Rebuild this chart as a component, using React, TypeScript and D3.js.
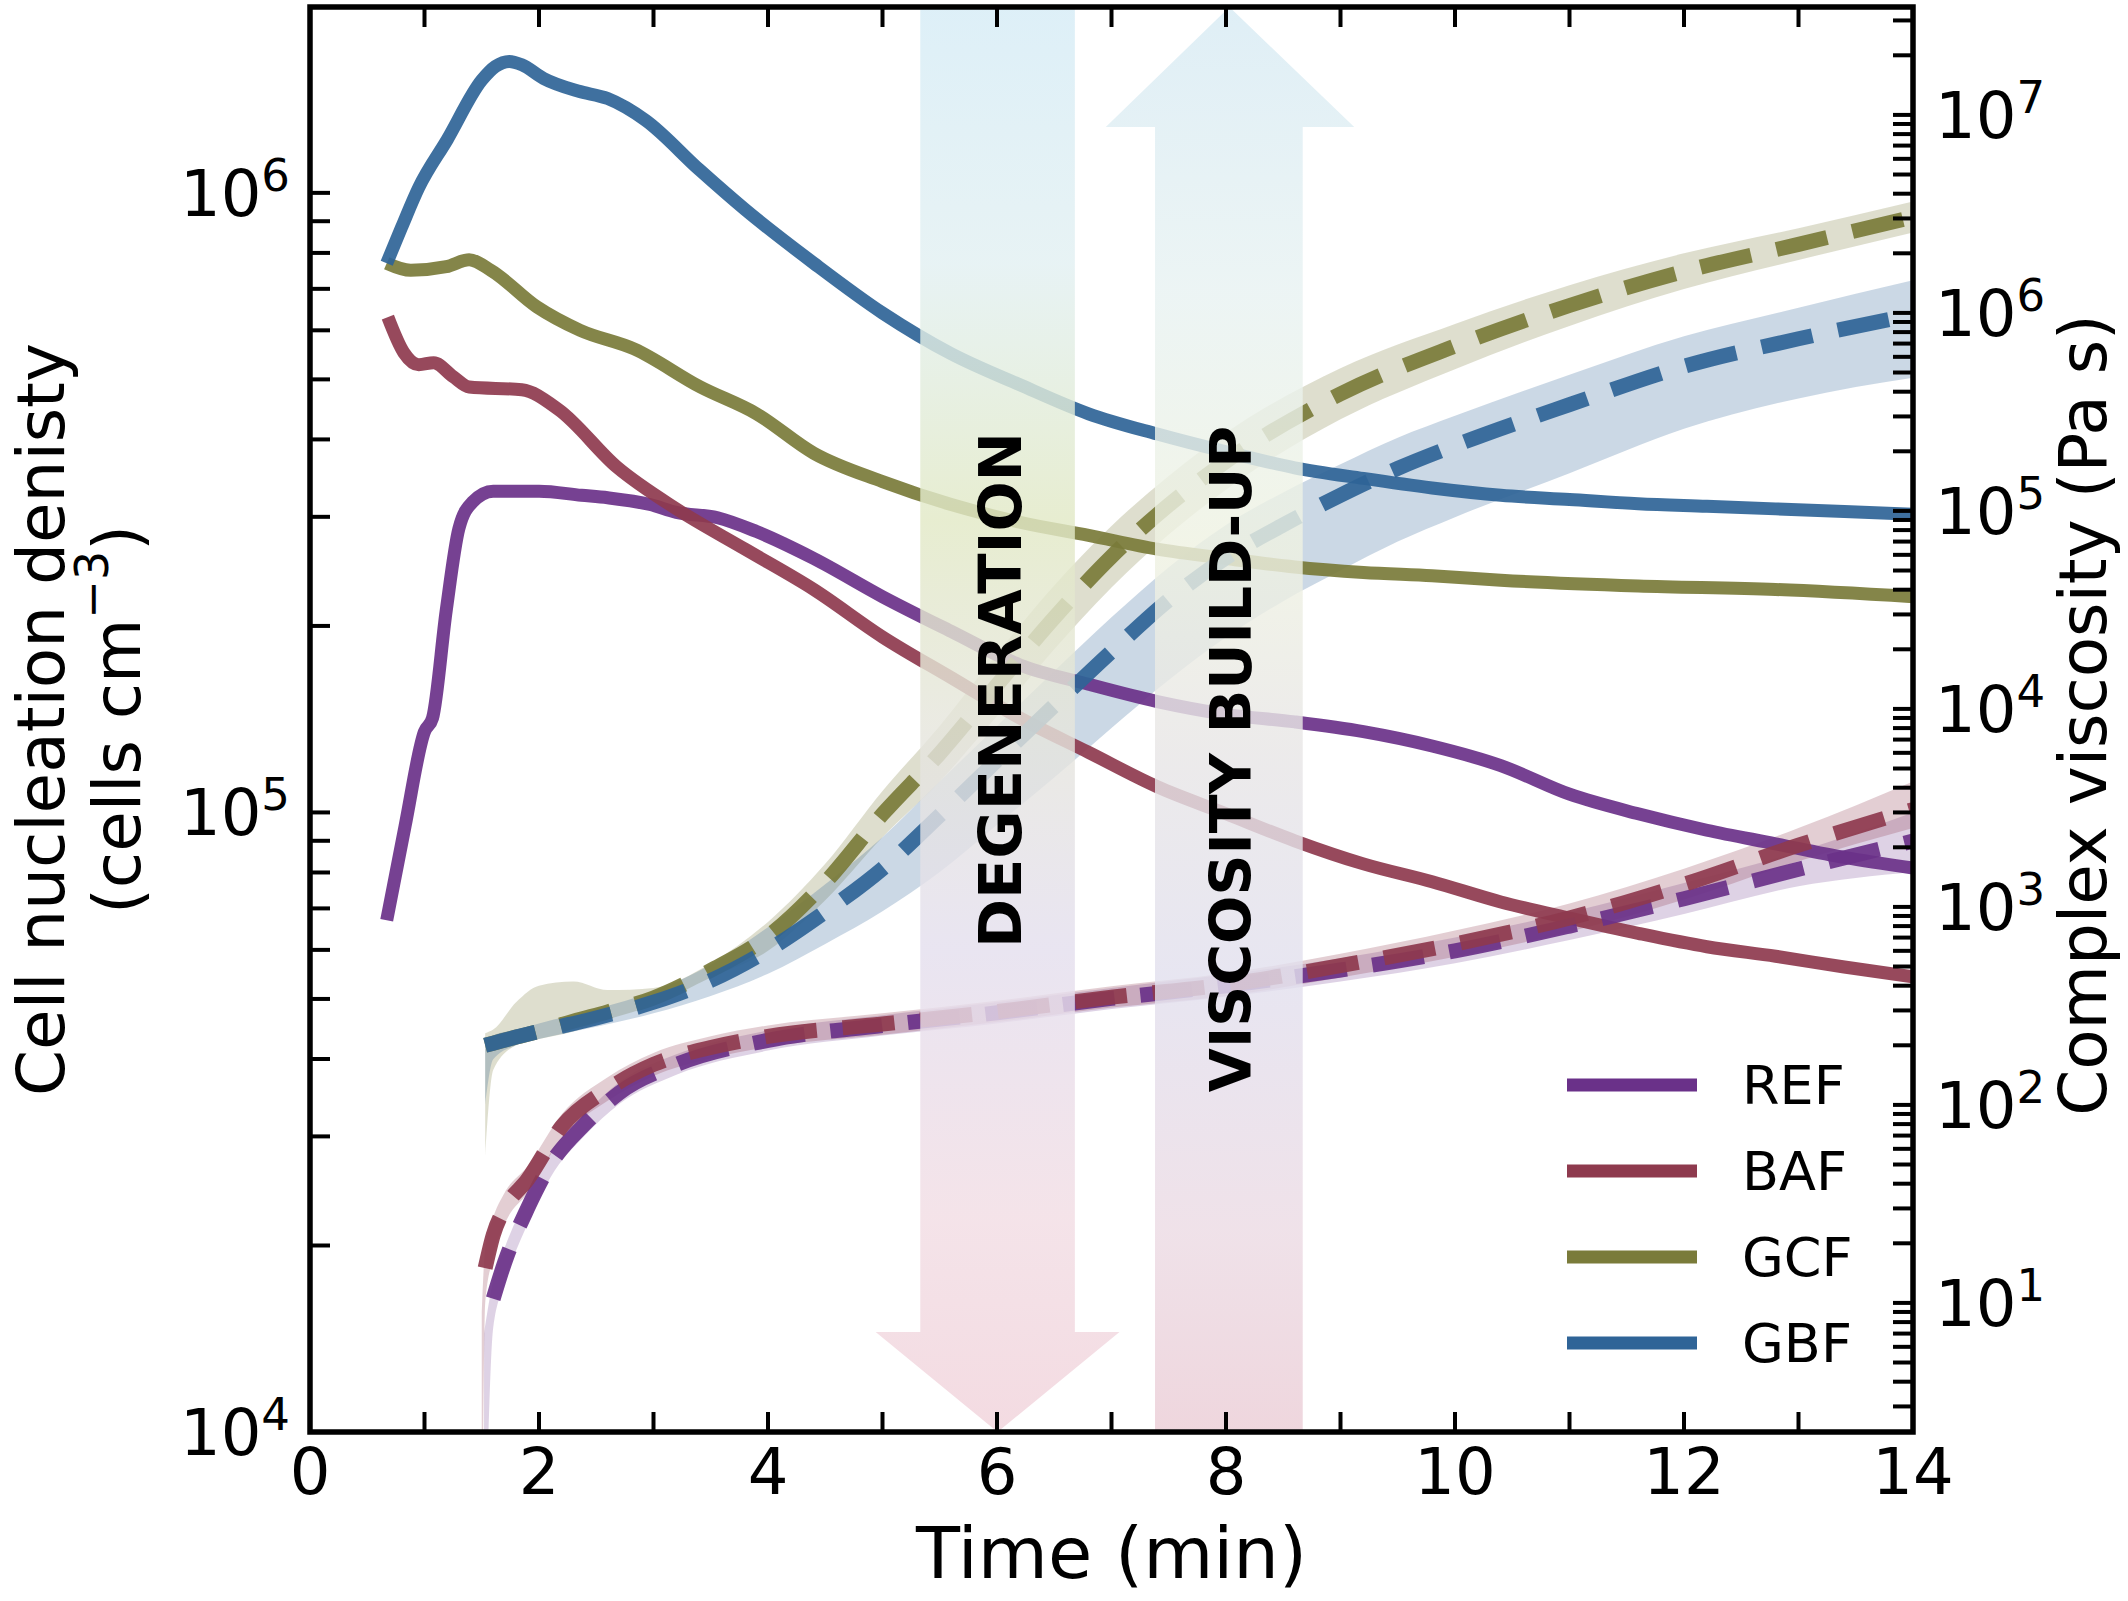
import React, { useEffect } from 'react';
import * as d3 from 'd3';

const W = 2128;
const H = 1601;
const PL = 310, PR = 1913, PT = 7, PB = 1432;
const FONT = '"DejaVu Sans", sans-serif';

// ---------- Cell nucleation density (left axis) ----------
const REF_NUC_X = [0.67, 0.83, 1.0, 1.07, 1.19, 1.3, 1.42, 1.6, 1.8, 2.0, 2.37, 2.6, 2.97, 3.2, 3.56, 3.9, 4.4, 5.0, 5.6, 6.2, 6.8, 7.4, 8.0, 8.6, 9.2, 9.8, 10.4, 11.0, 11.6, 12.2, 12.8, 13.4, 14.0];
const REF_NUC_Y = [6.7e4, 9.5e4, 1.35e5, 1.42e5, 2.12e5, 2.87e5, 3.17e5, 3.3e5, 3.3e5, 3.3e5, 3.25e5, 3.22e5, 3.14e5, 3.05e5, 2.99e5, 2.84e5, 2.57e5, 2.23e5, 1.96e5, 1.73e5, 1.61e5, 1.51e5, 1.44e5, 1.4e5, 1.35e5, 1.28e5, 1.19e5, 1.07e5, 9.95e4, 9.36e4, 8.9e4, 8.46e4, 8.13e4];

const BAF_NUC_X = [0.68, 0.82, 0.95, 1.08, 1.25, 1.39, 1.85, 2.17, 2.68, 3.2, 3.8, 4.4, 5.0, 5.6, 6.2, 6.8, 7.4, 8.0, 8.6, 9.2, 9.8, 10.4, 11.0, 11.6, 12.2, 12.8, 13.4, 14.0];
const BAF_NUC_Y = [6.3e5, 5.52e5, 5.28e5, 5.32e5, 5.05e5, 4.86e5, 4.81e5, 4.47e5, 3.61e5, 3.09e5, 2.66e5, 2.29e5, 1.92e5, 1.65e5, 1.42e5, 1.25e5, 1.1e5, 9.95e4, 9.0e4, 8.26e4, 7.73e4, 7.17e4, 6.75e4, 6.38e4, 6.07e4, 5.86e4, 5.63e4, 5.43e4];

const GCF_NUC_X = [0.67, 0.88, 1.19, 1.39, 1.58, 1.98, 2.36, 2.83, 3.41, 3.9, 4.4, 5.0, 5.6, 6.2, 6.8, 7.4, 8.0, 8.6, 9.2, 9.8, 10.4, 11.6, 12.8, 14.0];
const GCF_NUC_Y = [7.7e5, 7.5e5, 7.6e5, 7.8e5, 7.5e5, 6.55e5, 6.0e5, 5.6e5, 4.86e5, 4.4e5, 3.8e5, 3.42e5, 3.14e5, 2.94e5, 2.8e5, 2.66e5, 2.57e5, 2.49e5, 2.44e5, 2.41e5, 2.37e5, 2.32e5, 2.29e5, 2.23e5];

const GBF_NUC_X = [0.67, 0.8, 0.95, 1.2, 1.5, 1.62, 1.74, 1.85, 2.04, 2.34, 2.6, 2.93, 3.4, 3.8, 4.4, 5.0, 5.6, 6.2, 6.8, 7.4, 8.0, 8.6, 9.2, 9.8, 10.4, 11.0, 11.6, 12.2, 12.8, 13.4, 14.0];
const GBF_NUC_Y = [7.7e5, 8.8e5, 1.02e6, 1.22e6, 1.52e6, 1.6e6, 1.63e6, 1.61e6, 1.53e6, 1.46e6, 1.42e6, 1.31e6, 1.09e6, 9.4e5, 7.7e5, 6.4e5, 5.5e5, 4.9e5, 4.4e5, 4.08e5, 3.82e5, 3.6e5, 3.46e5, 3.34e5, 3.25e5, 3.2e5, 3.15e5, 3.12e5, 3.09e5, 3.06e5, 3.03e5];

// ---------- Complex viscosity (right axis): mean, lower, upper ----------
const REF_VIS_X = [1.52, 1.6, 1.7, 1.9, 2.1, 2.4, 2.7, 3.2, 4.0, 5.0, 6.0, 7.0, 8.0, 9.0, 10.0, 11.0, 12.0, 13.0, 14.0];
const REF_VIS_M = [null, 10.5, 16, 30, 50, 80, 115, 160, 212, 252, 292, 345, 400, 480, 600, 800, 1100, 1550, 2150];
const REF_VIS_LO = [0.3, 7.5, 12.5, 25, 43, 70, 101, 142, 188, 224, 258, 305, 352, 420, 520, 680, 920, 1270, 1500];
const REF_VIS_HI = [7, 13, 19, 35, 57, 90, 130, 180, 238, 284, 330, 390, 455, 550, 700, 940, 1320, 1900, 3000];

const BAF_VIS_X = [1.5, 1.53, 1.6, 1.7, 1.9, 2.2, 2.6, 3.0, 3.5, 4.0, 5.0, 6.0, 7.0, 8.0, 9.0, 10.0, 11.0, 12.0, 13.0, 14.0];
const BAF_VIS_M = [null, 15, 22, 30, 42, 78, 120, 160, 195, 222, 256, 296, 350, 405, 505, 650, 880, 1300, 2050, 3100];
const BAF_VIS_LO = [0.3, 10, 17, 25, 36, 68, 105, 140, 172, 196, 226, 262, 310, 355, 440, 560, 750, 1090, 1700, 2500];
const BAF_VIS_HI = [9, 19, 27, 36, 49, 90, 138, 183, 222, 252, 290, 336, 397, 462, 580, 760, 1040, 1560, 2500, 4300];

const GCF_VIS_X = [1.53, 1.6, 1.8, 2.0, 2.3, 2.6, 3.0, 3.5, 4.0, 4.5, 5.0, 5.5, 6.0, 6.5, 7.0, 7.5, 8.0, 9.0, 10.0, 11.0, 12.0, 13.0, 14.0];
const GCF_VIS_M = [200, 205, 220, 235, 265, 295, 347, 478, 710, 1330, 2940, 5960, 13200, 28900, 58800, 107000, 178000, 390000, 680000, 1090000, 1620000, 2220000, 3050000];
const GCF_VIS_LO = [55, 150, 200, 215, 235, 270, 320, 440, 600, 1080, 2250, 4300, 9200, 20000, 41000, 76000, 128000, 290000, 520000, 860000, 1320000, 1850000, 2550000];
const GCF_VIS_HI = [230, 240, 330, 400, 420, 380, 390, 520, 840, 1650, 3850, 8200, 19000, 42000, 84000, 150000, 248000, 525000, 880000, 1380000, 2000000, 2680000, 3650000];

const GBF_VIS_X = [1.53, 1.6, 1.8, 2.0, 2.5, 3.0, 3.5, 4.0, 4.5, 5.0, 5.5, 6.0, 6.5, 7.0, 7.5, 8.0, 8.5, 9.0, 9.5, 10.0, 11.0, 12.0, 13.0, 14.0];
const GBF_VIS_M = [200, 205, 220, 235, 275, 330, 425, 605, 944, 1560, 2900, 5500, 10400, 19500, 35500, 58000, 85000, 120000, 164000, 214000, 344000, 537000, 740000, 980000];
const GBF_VIS_LO = [100, 170, 200, 215, 248, 290, 355, 460, 650, 950, 1500, 2600, 4500, 8000, 14000, 23000, 35000, 50000, 70000, 93000, 155000, 260000, 370000, 470000];
const GBF_VIS_HI = [215, 225, 240, 258, 305, 375, 510, 790, 1300, 2250, 4300, 8200, 15500, 29000, 52000, 85000, 124000, 172000, 234000, 302000, 487000, 762000, 1062000, 1460000];

const SERIES = ['REF', 'BAF', 'GCF', 'GBF'];
const COLORS = ['#6a3189', '#8e3a4e', '#7a7b3a', '#2f6497'];

const X_TICKS = [0, 2, 4, 6, 8, 10, 12, 14];
const LEFT_MAJOR = [4, 5, 6];
const RIGHT_MAJOR = [1, 2, 3, 4, 5, 6, 7];

export default function App() {
  useEffect(() => {
    document.body.style.margin = '0';
  }, []);

  const x = d3.scaleLinear().domain([0, 14]).range([PL, PR]);
  const yL = d3.scaleLog().domain([1e4, Math.pow(10, 6.3)]).range([PB, PT]);
  const yR = d3.scaleLog().domain([Math.pow(10, 0.348), Math.pow(10, 7.545)]).range([PB, PT]);

  const nucX = [REF_NUC_X, BAF_NUC_X, GCF_NUC_X, GBF_NUC_X];
  const nucY = [REF_NUC_Y, BAF_NUC_Y, GCF_NUC_Y, GBF_NUC_Y];
  const visX = [REF_VIS_X, BAF_VIS_X, GCF_VIS_X, GBF_VIS_X];
  const visM = [REF_VIS_M, BAF_VIS_M, GCF_VIS_M, GBF_VIS_M];
  const visLo = [REF_VIS_LO, BAF_VIS_LO, GCF_VIS_LO, GBF_VIS_LO];
  const visHi = [REF_VIS_HI, BAF_VIS_HI, GCF_VIS_HI, GBF_VIS_HI];

  const nucLine = d3
    .line<[number, number]>()
    .x((d) => x(d[0]))
    .y((d) => yL(d[1]))
    .curve(d3.curveMonotoneX);
  const visLine = d3
    .line<[number, number | null]>()
    .defined((d) => d[1] != null)
    .x((d) => x(d[0]))
    .y((d) => yR(d[1] as number))
    .curve(d3.curveMonotoneX);
  const visArea = d3
    .area<[number, number, number]>()
    .x((d) => x(d[0]))
    .y0((d) => yR(d[1]))
    .y1((d) => yR(d[2]))
    .curve(d3.curveMonotoneX);

  const bandOpacity = [0.22, 0.25, 0.25, 0.25];

  const xMinor = d3.range(0, 15, 1);
  const leftTicks: number[] = [];
  for (let e = 4; e <= 6; e++) for (let k = 1; k <= 9; k++) {
    const v = k * Math.pow(10, e);
    if (v >= 1e4 && v <= Math.pow(10, 6.3)) leftTicks.push(v);
  }
  const rightTicks: number[] = [];
  for (let e = 0; e <= 7; e++) for (let k = 1; k <= 9; k++) {
    const v = k * Math.pow(10, e);
    if (v >= Math.pow(10, 0.348) && v <= Math.pow(10, 7.545)) rightTicks.push(v);
  }
  const TL = 20;

  const dShaftL = x(5.33), dShaftR = x(6.68), dHeadL = x(4.94), dHeadR = x(7.07), dTip = x(6.005);
  const dBase = PB - 100;
  const degenPath = `M${dShaftL},${PT} H${dShaftR} V${dBase} H${dHeadR} L${dTip},${PB} L${dHeadL},${dBase} H${dShaftL} Z`;
  const vShaftL = x(7.38), vShaftR = x(8.67), vHeadL = x(6.95), vHeadR = x(9.12), vTip = x(8.03);
  const vBase = PT + 120;
  const viscPath = `M${vShaftL},${PB} V${vBase} H${vHeadL} L${vTip},${PT} L${vHeadR},${vBase} H${vShaftR} V${PB} Z`;

  const legendY = [1085, 1171, 1257, 1343];

  return (
    <svg width={W} height={H} viewBox={`0 0 ${W} ${H}`} style={{ display: 'block', background: '#fff' }} fontFamily={FONT}>
      <defs>
        <clipPath id="plotClip">
          <rect x={PL} y={PT} width={PR - PL} height={PB - PT} />
        </clipPath>
        <linearGradient id="gradDegen" gradientUnits="userSpaceOnUse" x1="0" y1={PT} x2="0" y2={PB}>
          <stop offset="0" stopColor="#d6ecf6" />
          <stop offset="0.18" stopColor="#e2f0f2" />
          <stop offset="0.36" stopColor="#e2e9c6" />
          <stop offset="0.5" stopColor="#e6e6dc" />
          <stop offset="0.66" stopColor="#e4dfee" />
          <stop offset="0.85" stopColor="#f2dde4" />
          <stop offset="1" stopColor="#f1d3db" />
        </linearGradient>
        <linearGradient id="gradVisc" gradientUnits="userSpaceOnUse" x1="0" y1={PT} x2="0" y2={PB}>
          <stop offset="0" stopColor="#d8ebf4" />
          <stop offset="0.2" stopColor="#e8f2f2" />
          <stop offset="0.38" stopColor="#eff2e2" />
          <stop offset="0.52" stopColor="#e8e6e6" />
          <stop offset="0.68" stopColor="#e2e0ee" />
          <stop offset="0.86" stopColor="#ecdbe4" />
          <stop offset="1" stopColor="#ebcdd6" />
        </linearGradient>
      </defs>

      <g clipPath="url(#plotClip)">
        {SERIES.map((s, i) => {
          const pts: [number, number, number][] = visX[i].map((xv, j) => [xv, visLo[i][j], visHi[i][j]]);
          return <path key={`band-${s}`} d={visArea(pts) || ''} fill={COLORS[i]} fillOpacity={bandOpacity[i]} stroke="none" />;
        })}
        {SERIES.map((s, i) => {
          const pts: [number, number][] = nucX[i].map((xv, j) => [xv, nucY[i][j]]);
          return (
            <path key={`nuc-${s}`} d={nucLine(pts) || ''} fill="none" stroke={COLORS[i]} strokeWidth={13} strokeOpacity={0.92} strokeLinejoin="round" />
          );
        })}
        {SERIES.map((s, i) => {
          const pts: [number, number | null][] = visX[i].map((xv, j) => [xv, visM[i][j]]);
          return (
            <path key={`vis-${s}`} d={visLine(pts) || ''} fill="none" stroke={COLORS[i]} strokeWidth={15} strokeOpacity={0.92} strokeDasharray="52 26" />
          );
        })}
        <path d={degenPath} fill="url(#gradDegen)" fillOpacity={0.82} />
        <path d={viscPath} fill="url(#gradVisc)" fillOpacity={0.82} />
      </g>

      <text transform={`translate(${x(6.03)},${690}) rotate(-90)`} textAnchor="middle" dominantBaseline="central" fontWeight="bold" fontSize={59} fill="#000">
        DEGENERATION
      </text>
      <text transform={`translate(${x(8.04)},${759}) rotate(-90)`} textAnchor="middle" dominantBaseline="central" fontWeight="bold" fontSize={57} fill="#000">
        VISCOSITY BUILD-UP
      </text>

      <g stroke="#000" strokeWidth={4}>
        {xMinor.map((t) => (
          <g key={`xt-${t}`}>
            <line x1={x(t)} x2={x(t)} y1={PB} y2={PB - TL} />
            <line x1={x(t)} x2={x(t)} y1={PT} y2={PT + TL} />
          </g>
        ))}
        {leftTicks.map((v, i) => (
          <line key={`lt-${i}`} x1={PL} x2={PL + TL} y1={yL(v)} y2={yL(v)} />
        ))}
        {rightTicks.map((v, i) => (
          <line key={`rt-${i}`} x1={PR} x2={PR - TL} y1={yR(v)} y2={yR(v)} />
        ))}
      </g>

      <rect x={PL} y={PT} width={PR - PL} height={PB - PT} fill="none" stroke="#000" strokeWidth={5.5} />

      {X_TICKS.map((t) => (
        <text key={`xl-${t}`} x={x(t)} y={1472} textAnchor="middle" dominantBaseline="central" fontSize={64} fill="#000">
          {t}
        </text>
      ))}
      {LEFT_MAJOR.map((e) => (
        <text key={`ll-${e}`} x={290} y={yL(Math.pow(10, e)) + 23} textAnchor="end" fontSize={64} fill="#000">
          10<tspan fontSize={45} dy={-25}>{e}</tspan>
        </text>
      ))}
      {RIGHT_MAJOR.map((e) => (
        <text key={`rl-${e}`} x={1935} y={yR(Math.pow(10, e)) + 23} textAnchor="start" fontSize={64} fill="#000">
          10<tspan fontSize={45} dy={-25}>{e}</tspan>
        </text>
      ))}

      <text x={(PL + PR) / 2} y={1553} textAnchor="middle" dominantBaseline="central" fontSize={72} fill="#000">
        Time (min)
      </text>
      <text transform={`translate(41,${(PT + PB) / 2}) rotate(-90)`} textAnchor="middle" dominantBaseline="central" fontSize={66} fill="#000">
        Cell nucleation denisty
      </text>
      <text transform={`translate(117,${(PT + PB) / 2}) rotate(-90)`} textAnchor="middle" dominantBaseline="central" fontSize={66} fill="#000">
        (cells cm<tspan fontSize={46} dy={-25}>−3</tspan><tspan dy={25}>)</tspan>
      </text>
      <text transform={`translate(2083,${715}) rotate(-90)`} textAnchor="middle" dominantBaseline="central" fontSize={66} fill="#000">
        Complex viscosity (Pa s)
      </text>

      {SERIES.map((s, i) => (
        <g key={`lg-${s}`}>
          <line x1={1567} x2={1697} y1={legendY[i]} y2={legendY[i]} stroke={COLORS[i]} strokeWidth={13} />
          <text x={1742} y={legendY[i]} dominantBaseline="central" fontSize={54} fill="#000">
            {s}
          </text>
        </g>
      ))}
    </svg>
  );
}
